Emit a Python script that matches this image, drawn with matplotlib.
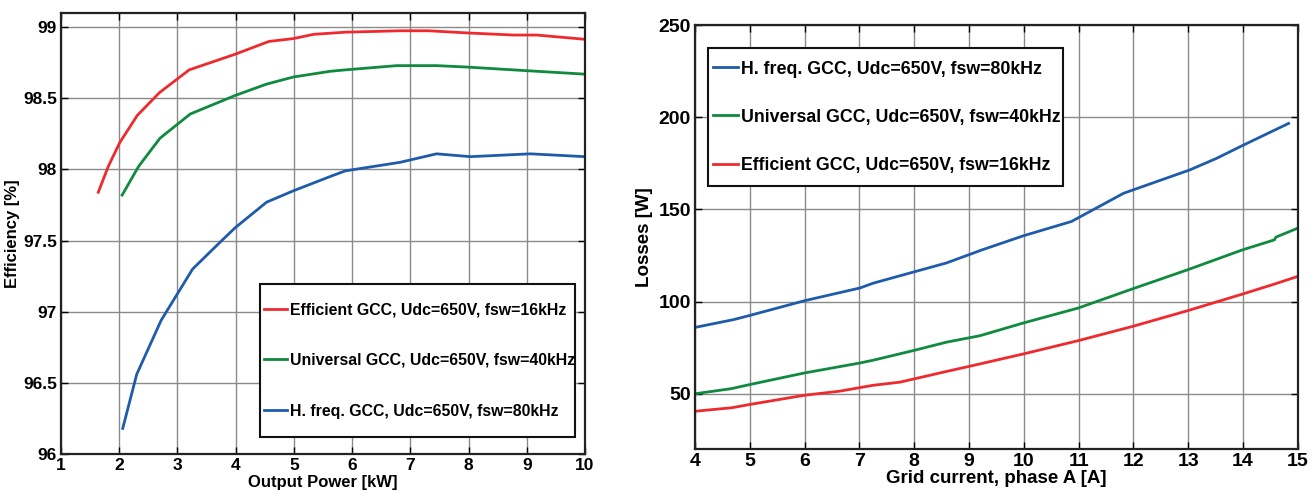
import matplotlib
matplotlib.use("Agg")
import matplotlib.pyplot as plt
from matplotlib.patches import Rectangle
from matplotlib.ticker import FormatStrFormatter, FuncFormatter

# Efficiency vs output power (left)
p_eff = [1.64, 1.81, 2.01, 2.31, 2.69, 3.20, 3.99, 4.57, 4.99, 5.34, 5.88, 6.82, 7.31, 7.97, 8.77, 9.17, 10.0]
eff_eff = [97.84, 98.02, 98.19, 98.38, 98.54, 98.70, 98.81, 98.90, 98.92, 98.95, 98.965, 98.975, 98.975, 98.96, 98.945, 98.945, 98.915]

p_uni = [2.05, 2.33, 2.70, 3.22, 3.99, 4.53, 4.99, 5.62, 5.88, 6.77, 7.45, 7.97, 8.77, 10.0]
eff_uni = [97.82, 98.02, 98.22, 98.39, 98.52, 98.60, 98.65, 98.69, 98.70, 98.73, 98.73, 98.72, 98.70, 98.67]

p_hf = [2.06, 2.30, 2.72, 2.99, 3.26, 3.76, 3.99, 4.53, 4.99, 5.62, 5.88, 6.82, 7.45, 8.03, 9.06, 10.0]
eff_hf = [96.18, 96.56, 96.94, 97.12, 97.30, 97.50, 97.59, 97.77, 97.85, 97.95, 97.99, 98.05, 98.11, 98.09, 98.11, 98.09]

# Losses vs grid current (right)
i_hf = [4.0, 4.70, 5.0, 6.0, 7.01, 7.25, 7.98, 8.59, 9.23, 9.99, 10.87, 11.82, 13.03, 13.52, 14.01, 14.83]
loss_hf = [86.0, 90.2, 92.5, 100.5, 107.4, 110.0, 116.0, 121.0, 128.0, 135.7, 143.5, 158.8, 171.5, 177.8, 185.0, 196.7]

i_uni = [4.0, 4.67, 5.0, 6.0, 7.01, 7.25, 7.98, 8.59, 9.20, 9.99, 10.99, 11.99, 12.99, 13.99, 14.57, 14.6, 15.0]
loss_uni = [50.0, 52.8, 55.0, 61.3, 66.7, 68.2, 73.4, 78.0, 81.5, 88.4, 96.5, 107.0, 117.3, 128.1, 133.5, 135.0, 139.9]

i_eff = [4.0, 4.67, 5.0, 6.0, 6.64, 7.25, 7.74, 8.47, 9.20, 9.99, 10.99, 11.99, 12.99, 13.99, 14.57, 15.0]
loss_eff = [40.5, 42.4, 44.2, 49.2, 51.4, 54.6, 56.3, 61.3, 66.2, 71.6, 78.8, 86.6, 95.1, 104.1, 109.5, 113.7]

lbl_eff = "Efficient GCC, Udc=650V, fsw=16kHz"
lbl_uni = "Universal GCC, Udc=650V, fsw=40kHz"
lbl_hf = "H. freq. GCC, Udc=650V, fsw=80kHz"

RED = "#ee2a2e"
GREEN = "#108a3e"
BLUE = "#1f5bab"

plt.rcParams['font.family'] = ['Liberation Sans', 'DejaVu Sans']
plt.rcParams['font.weight'] = 'bold'

fig = plt.figure(figsize=(13.15, 4.94), dpi=100)
ax1 = fig.add_axes([0.0464, 0.081, 0.3985, 0.8927])
ax2 = fig.add_axes([0.5285, 0.091, 0.4585, 0.858])


def style_axes(ax, fsize):
    ax.grid(True, color='#8a8a8a', linewidth=1.0)
    ax.set_axisbelow(True)
    ax.tick_params(direction='in', top=True, right=True, length=5, width=1.0,
                   labelsize=fsize, pad=3)
    for lab in ax.get_xticklabels() + ax.get_yticklabels():
        lab.set_fontweight('bold')
    for s in ax.spines.values():
        s.set_linewidth(1.6)
        s.set_color('#222222')


def boxed_legend(ax, box, fsize, spacing):
    # boîte du légende dessinée à part (marges façon MATLAB)
    x0, y0, w, h = box
    ax.add_patch(Rectangle((x0, y0), w, h, transform=ax.transAxes, facecolor='white',
                           edgecolor='#111111', linewidth=1.5, zorder=4.5))
    leg = ax.legend(loc='center left', bbox_to_anchor=(x0 + 0.002, y0 + h / 2),
                    fontsize=fsize, handlelength=1.4, handletextpad=0.2,
                    labelspacing=spacing, borderpad=0.2, frameon=False, borderaxespad=0)
    leg.set_zorder(5)
    return leg


# --- left: efficiency
ax1.plot(p_eff, eff_eff, color=RED, lw=2, label=lbl_eff)
ax1.plot(p_uni, eff_uni, color=GREEN, lw=2, label=lbl_uni)
ax1.plot(p_hf, eff_hf, color=BLUE, lw=2, label=lbl_hf)
ax1.set_xlim(1, 10)
ax1.set_ylim(96, 99.1)
ax1.set_xticks(range(1, 11))
ax1.set_yticks([96, 96.5, 97, 97.5, 98, 98.5, 99])
ax1.yaxis.set_major_formatter(FuncFormatter(lambda v, _: f"{v:g}"))
style_axes(ax1, 12.5)
ax1.set_xlabel("Output Power [kW]", fontsize=12, fontweight='bold', labelpad=1)
ax1.set_ylabel("Efficiency [%]", fontsize=12, fontweight='bold', labelpad=2)
boxed_legend(ax1, (0.380, 0.0385, 0.601, 0.347), 11.4, 2.25)

# --- right: losses
ax2.plot(i_hf, loss_hf, color=BLUE, lw=2, label=lbl_hf)
ax2.plot(i_uni, loss_uni, color=GREEN, lw=2, label=lbl_uni)
ax2.plot(i_eff, loss_eff, color=RED, lw=2, label=lbl_eff)
ax2.set_xlim(4, 15)
ax2.set_ylim(20, 250)
ax2.set_xticks(range(4, 16))
ax2.set_yticks([50, 100, 150, 200, 250])
ax2.yaxis.set_major_formatter(FormatStrFormatter('%d'))
style_axes(ax2, 14)
ax2.set_xlabel("Grid current, phase A [A]", fontsize=13.5, fontweight='bold', labelpad=0)
ax2.set_ylabel("Losses [W]", fontsize=13.5, fontweight='bold', labelpad=4)
boxed_legend(ax2, (0.0216, 0.620, 0.588, 0.326), 12.8, 1.75)

fig.savefig("out.png", dpi=100, facecolor='white')
